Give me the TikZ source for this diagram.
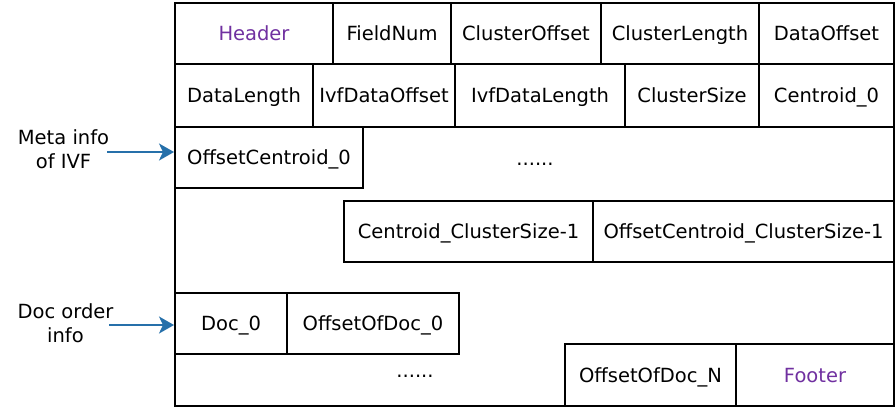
\documentclass[tikz,border=0pt]{standalone}
\usepackage{fontspec}
\setmainfont{DejaVu Sans}
\usetikzlibrary{arrows.meta}
\definecolor{hdr}{RGB}{112,48,160}
\definecolor{arr}{RGB}{38,112,170}
\tikzset{
  cell/.style={draw=black, line width=2pt, inner sep=0pt, text height=14pt, text depth=0pt,
    font=\fontsize{19.5}{24}\selectfont},
  plain/.style={inner sep=0pt, font=\fontsize{19.5}{24}\selectfont},
  side/.style={inner sep=0pt, align=center, font=\fontsize{19.5}{24}\selectfont},
  pointer/.style={draw=arr, line width=2pt, -{Stealth[length=15pt,width=17pt,inset=4pt]}},
}
\begin{document}
\begin{tikzpicture}[x=1pt,y=-1pt]
\useasboundingbox (0,0) rectangle (896,408);
\node[draw=black, line width=2pt, minimum width=719pt, minimum height=403pt, inner sep=0pt] (frame) at (534.5,204.5) {};
% row 1
\node[cell, minimum width=158pt, minimum height=61pt, text=hdr] (header) at (254,33.5) {Header};
\node[cell, minimum width=118pt, minimum height=61pt] (fieldnum) at (392,33.5) {FieldNum};
\node[cell, minimum width=150pt, minimum height=61pt] (clusteroffset) at (526,33.5) {ClusterOffset};
\node[cell, minimum width=158pt, minimum height=61pt] (clusterlength) at (680,33.5) {ClusterLength};
\node[cell, minimum width=135pt, minimum height=61pt] (dataoffset) at (826.5,33.5) {DataOffset};
% row 2
\node[cell, minimum width=138pt, minimum height=62.5pt] (datalength) at (244,95.25) {DataLength};
\node[cell, minimum width=142pt, minimum height=62.5pt] (ivfoffset) at (384,95.25) {IvfDataOffset};
\node[cell, minimum width=170pt, minimum height=62.5pt] (ivflength) at (540,95.25) {IvfDataLength};
\node[cell, minimum width=134pt, minimum height=62.5pt] (clustersize) at (692,95.25) {ClusterSize};
\node[cell, minimum width=135pt, minimum height=62.5pt] (centroid0) at (826.5,95.25) {Centroid\_0};
% row 3
\node[cell, minimum width=188pt, minimum height=61.5pt] (ocent0) at (269,157.25) {OffsetCentroid\_0};
\node[plain, anchor=base] (dots1) at (535,165) {......};
% centroid last
\node[cell, minimum width=249pt, minimum height=61pt] (centlast) at (468.5,231.5) {Centroid\_ClusterSize-1};
\node[cell, minimum width=301pt, minimum height=61pt] (ocentlast) at (743.5,231.5) {OffsetCentroid\_ClusterSize-1};
% docs
\node[cell, minimum width=112pt, minimum height=61pt] (doc0) at (231,323.5) {Doc\_0};
\node[cell, minimum width=172pt, minimum height=61pt] (odoc0) at (373,323.5) {OffsetOfDoc\_0};
\node[plain, anchor=base] (dots2) at (415,377) {......};
\node[cell, minimum width=171pt, minimum height=62pt] (odocn) at (650.5,375) {OffsetOfDoc\_N};
\node[cell, minimum width=158pt, minimum height=62pt, text=hdr] (footer) at (815,375) {Footer};
% side labels
\node[side] (meta) at (63.5,149) {Meta info\\of IVF};
\node[side] (docorder) at (65.5,323) {Doc order\\info};
\coordinate (a1) at (107,152);
\coordinate (a2) at (109,325);
\draw[pointer] (a1) -- (ocent0.west |- a1);
\draw[pointer] (a2) -- (doc0.west |- a2);
\end{tikzpicture}
\end{document}
